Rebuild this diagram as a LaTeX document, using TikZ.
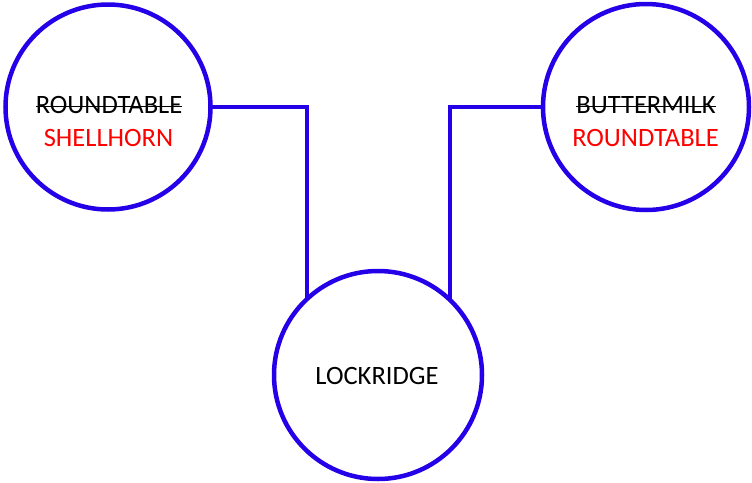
\documentclass[tikz,border=0pt]{standalone}
\usepackage{fontspec}
\setmainfont{Carlito}
\definecolor{ringblue}{RGB}{36,0,232}
\definecolor{txtred}{RGB}{255,0,0}
\newcommand\mystrike[1]{\leavevmode\sbox0{#1}\rlap{\rule[6pt]{\wd0}{1.3pt}}\box0}
\begin{document}
\begin{tikzpicture}[x=1pt,y=-1pt,
  ring/.style={circle,draw=ringblue,line width=4.5pt,outer sep=0pt,inner sep=0pt,fill=none},
  lbl/.style={anchor=base,inner sep=0pt,font=\fontsize{26.5}{31}\selectfont},
  link/.style={draw=ringblue,line width=4.5pt}]
\useasboundingbox (0,0) rectangle (752,482);
\node[ring,minimum size=205pt] (L) at (108,107) {};
\node[ring,minimum size=206pt] (R) at (646,107) {};
\node[ring,minimum size=208pt] (B) at (378,375) {};
\node[lbl] (lold) at (109,113) {\mystrike{ROUNDTABLE}};
\node[lbl,text=txtred] (lnew) at (108.5,146) {SHELLHORN};
\node[lbl] (rold) at (646,113) {\mystrike{BUTTERMILK}};
\node[lbl,text=txtred] (rnew) at (645.5,146) {ROUNDTABLE};
\node[lbl] (btxt) at (377,384) {LOCKRIDGE};
\draw[link] (L.east) -- (B.133.5 |- L.east) -- (B.133.5);
\draw[link] (R.west) -- (B.46.5 |- R.west) -- (B.46.5);
\end{tikzpicture}
\end{document}
